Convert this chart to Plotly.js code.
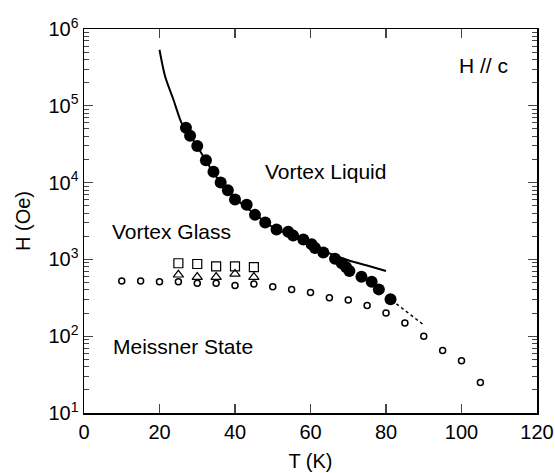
<!DOCTYPE html>
<html>
<head>
<meta charset="utf-8">
<script src="https://cdn.plot.ly/plotly-3.0.1.min.js"></script>
<style>html,body{margin:0;padding:0;background:#fff;}#chart{width:555px;height:473px;}</style>
</head>
<body>
<div id="chart"></div>
<script>
// Upper transition line (solid)
const lineT = [20, 21.5, 23.7, 25.9, 27, 30, 35, 40, 45, 50, 55, 60, 65, 70, 75, 80];
const lineH = [537000, 240000, 120000, 59000, 50100, 29500, 12000, 6310, 3980, 2630, 2040, 1550, 1200, 977, 832, 708];
// Lower branch (dotted)
const dashT = [81.5, 86, 90];
const dashH = [295, 200, 140];
// Filled circles
const fillT = [27.0, 28.1, 30.0, 32.3, 34.3, 36.2, 38.1, 40.0, 43.1, 45.3, 48.0, 51.0, 54.1, 55.4, 58.1, 60.3, 61.2, 63.4, 66.5, 68.3, 69.4, 70.3, 73.5, 76.2, 78.1, 81.2];
const fillH = [51900, 40700, 30000, 19500, 13800, 10000, 7940, 6030, 5130, 3800, 3020, 2450, 2290, 2040, 1820, 1580, 1410, 1230, 1020, 891, 794, 708, 596, 513, 407, 302];
// Open circles (Meissner boundary)
const openT = [10, 15, 20, 25, 30, 35, 40, 45, 50, 55, 60, 65, 70, 75, 80, 85, 90, 95, 100, 105];
const openH = [525, 525, 513, 513, 490, 490, 457, 479, 442, 407, 372, 316, 295, 251, 200, 148, 100, 65, 48, 25];
// Open squares
const sqT = [25, 30, 35, 40, 45];
const sqH = [891, 871, 813, 813, 794];
// Open triangles
const triT = [25, 30, 35, 40, 45];
const triH = [631, 589, 589, 646, 589];
// Tick labels
const yTickVals = [10, 100, 1000, 10000, 100000, 1000000];
const yTickText = ["10<sup>1</sup>", "10<sup>2</sup>", "10<sup>3</sup>", "10<sup>4</sup>", "10<sup>5</sup>", "10<sup>6</sup>"];
const xTickVals = [0, 20, 40, 60, 80, 100, 120];

const font = "Liberation Sans, Arial, Helvetica, sans-serif";

const traces = [
  {x: lineT, y: lineH, mode: 'lines', line: {color: '#000', width: 2, shape: 'spline', smoothing: 0.8}},
  {x: dashT, y: dashH, mode: 'lines', line: {color: '#000', width: 1.5, dash: 'dot'}},
  {x: openT, y: openH, mode: 'markers', marker: {symbol: 'circle-open', size: 6, color: '#000', line: {width: 1.5, color: '#000'}}},
  {x: sqT, y: sqH, mode: 'markers', marker: {symbol: 'square-open', size: 9, color: '#000', line: {width: 1.2, color: '#000'}}},
  {x: triT, y: triH, mode: 'markers', marker: {symbol: 'triangle-up-open', size: 9, color: '#000', line: {width: 1.2, color: '#000'}}},
  {x: fillT, y: fillH, mode: 'markers', marker: {symbol: 'circle', size: 12, color: '#000'}}
];

const layout = {
  width: 555, height: 473,
  margin: {l: 84, r: 18, t: 29, b: 60},
  paper_bgcolor: '#fff', plot_bgcolor: '#fff',
  showlegend: false,
  font: {family: font, size: 20, color: '#000'},
  xaxis: {
    range: [0, 120], tickvals: xTickVals, ticks: 'inside', ticklen: 9, tickwidth: 1.2,
    showline: true, linewidth: 1.5, linecolor: '#000', mirror: 'ticks', showgrid: false, zeroline: false,
    tickfont: {size: 20, family: font},
    title: {text: 'T (K)', font: {size: 20, family: font}, standoff: 12}
  },
  yaxis: {
    type: 'log', range: [1, 6], tickvals: yTickVals, ticktext: yTickText,
    ticks: 'inside', ticklen: 9, tickwidth: 1.2,
    minor: {ticks: 'inside', ticklen: 5, tickwidth: 1, dtick: 'D1', showgrid: false},
    showline: true, linewidth: 1.5, linecolor: '#000', mirror: 'ticks', showgrid: false, zeroline: false,
    tickfont: {size: 20, family: font},
    title: {text: 'H (Oe)', font: {size: 20, family: font}, standoff: 12}
  },
  annotations: [
    {x: 64.1, y: 4.14, xref: 'x', yref: 'y', text: 'Vortex Liquid', showarrow: false, font: {size: 21, family: font}},
    {x: 23.1, y: 3.36, xref: 'x', yref: 'y', text: 'Vortex Glass', showarrow: false, font: {size: 21, family: font}},
    {x: 26.3, y: 1.86, xref: 'x', yref: 'y', text: 'Meissner State', showarrow: false, font: {size: 21, family: font}},
    {x: 105.7, y: 5.53, xref: 'x', yref: 'y', text: 'H // c', showarrow: false, font: {size: 21, family: font}}
  ]
};

Plotly.newPlot('chart', traces, layout, {staticPlot: true, displayModeBar: false});
</script>
</body>
</html>
